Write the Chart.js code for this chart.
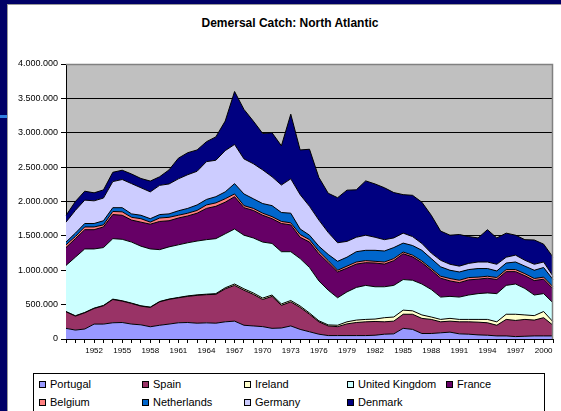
<!DOCTYPE html>
<html><head><meta charset="utf-8">
<script src="https://cdn.jsdelivr.net/npm/chart.js@4.4.0/dist/chart.umd.min.js"></script>
<style>
body{margin:0;background:#000066;width:561px;height:411px;overflow:hidden;position:relative;font-family:"Liberation Sans",Arial,sans-serif}
#card{position:absolute;left:7px;top:4px;width:554px;height:407px;background:#fff;border-top:1px solid #999;border-left:1px solid #999;box-sizing:border-box}
#dash{position:absolute;left:0;top:115px;width:7px;height:3px;background:#2f7fe0}
#title{position:absolute;left:0;top:11px;width:564px;text-align:center;font-weight:bold;font-size:12px;line-height:14px;color:#000}
#chart{position:absolute;left:-1px;top:-1px}
#legend{position:absolute;left:25px;top:368px;width:512px;height:50px;border:1px solid #000;box-sizing:border-box}
.item{position:absolute;font-size:11px;line-height:13px;color:#000;white-space:nowrap}
.sw{display:inline-block;width:7px;height:7px;border:1px solid #000;box-sizing:border-box;margin-right:4px;vertical-align:0px}
</style></head><body>
<div id="dash"></div>
<div id="card">
<div id="title">Demersal Catch: North Atlantic</div>
<canvas id="chart" width="554" height="365"></canvas>
<div id="legend"></div>
</div>
<script>
const years = [1949,1950,1951,1952,1953,1954,1955,1956,1957,1958,1959,1960,1961,1962,1963,1964,1965,1966,1967,1968,1969,1970,1971,1972,1973,1974,1975,1976,1977,1978,1979,1980,1981,1982,1983,1984,1985,1986,1987,1988,1989,1990,1991,1992,1993,1994,1995,1996,1997,1998,1999,2000,2001];
const portugal = [155000,130000,145000,217000,217000,236000,240000,217000,206000,178000,200000,217000,236000,240000,230000,235000,230000,250000,260000,200000,190000,180000,155000,160000,190000,140000,105000,70000,50000,50000,50000,50000,50000,55000,70000,75000,155000,140000,80000,80000,90000,100000,75000,70000,60000,55000,45000,45000,35000,40000,45000,45000,45000];
const spain = [241000,203000,236000,227000,266000,339000,311000,300000,272000,281000,341000,359000,363000,380000,405000,410000,420000,480000,520000,510000,460000,395000,465000,330000,350000,320000,255000,180000,140000,130000,170000,190000,200000,200000,180000,185000,205000,220000,220000,205000,160000,160000,175000,180000,185000,181000,155000,240000,235000,245000,230000,265000,155000];
const ireland = [4000,5000,5000,5000,5000,5000,5000,5000,5000,5000,5000,5000,5000,7000,7000,7000,10000,15000,20000,20000,20000,20000,20000,20000,20000,20000,18000,15000,15000,20000,30000,35000,35000,35000,60000,60000,60000,50000,50000,35000,35000,40000,35000,35000,40000,49000,50000,75000,90000,65000,65000,90000,50000];
const unitedKingdom = [670000,852000,924000,861000,842000,880000,894000,888000,867000,846000,754000,759000,766000,773000,783000,793000,800000,785000,800000,780000,800000,815000,750000,760000,710000,690000,662000,580000,505000,400000,435000,475000,495000,470000,450000,460000,445000,445000,450000,400000,325000,320000,325000,355000,375000,385000,410000,420000,440000,385000,300000,260000,276000];
const france = [260000,270000,280000,280000,300000,350000,350000,320000,350000,360000,410000,380000,390000,390000,405000,455000,470000,460000,470000,400000,400000,390000,360000,410000,390000,310000,370000,395000,400000,375000,345000,340000,330000,345000,330000,360000,375000,340000,310000,280000,275000,225000,210000,220000,210000,215000,205000,200000,180000,185000,210000,210000,204000];
const belgium = [40000,30000,40000,40000,30000,45000,50000,40000,50000,30000,50000,50000,40000,40000,40000,50000,50000,50000,40000,30000,30000,30000,30000,30000,30000,40000,35000,35000,30000,25000,30000,30000,30000,25000,30000,30000,25000,25000,25000,25000,28000,35000,35000,34000,30000,28000,29000,30000,30000,30000,30000,30000,30000];
const netherlands = [40000,50000,50000,50000,60000,55000,60000,50000,50000,50000,50000,50000,65000,70000,80000,80000,90000,100000,150000,170000,140000,140000,160000,130000,140000,80000,65000,75000,90000,130000,130000,150000,150000,160000,160000,160000,130000,140000,155000,145000,137000,120000,120000,116000,125000,112000,96000,95000,110000,110000,120000,140000,105000];
const germany = [290000,330000,340000,330000,330000,380000,410000,440000,400000,390000,425000,435000,465000,490000,490000,550000,530000,600000,570000,510000,510000,490000,420000,400000,500000,500000,420000,380000,320000,270000,230000,210000,220000,190000,165000,140000,145000,130000,100000,80000,95000,87000,85000,90000,95000,95000,97000,85000,100000,85000,87000,80000,48000];
const denmark = [97000,130000,130000,116000,119000,135000,135000,140000,135000,157000,125000,205000,300000,320000,310000,290000,340000,430000,770000,720000,620000,530000,640000,570000,940000,650000,830000,620000,570000,655000,745000,690000,790000,775000,755000,660000,560000,600000,600000,550000,425000,423000,460000,390000,350000,470000,383000,350000,290000,300000,353000,260000,277000];
const seriesNames = ["Portugal","Spain","Ireland","United Kingdom","France","Belgium","Netherlands","Germany","Denmark"];
const seriesData = [portugal,spain,ireland,unitedKingdom,france,belgium,netherlands,germany,denmark];
const seriesColors = ["#9999FF","#993366","#FFFFCC","#CCFFFF","#660066","#FF8080","#0066CC","#CCCCFF","#000080"];
const yTicks = [0,500000,1000000,1500000,2000000,2500000,3000000,3500000,4000000];

// legend layout (style only)
const legCols = [5,108,210,313,412];
const legRows = [4,22];
const legend = document.getElementById('legend');
seriesNames.forEach((n,i)=>{
  const d = document.createElement('div');
  d.className='item';
  d.style.left = legCols[i<5?i:i-5]+'px';
  d.style.top = legRows[i<5?0:1]+'px';
  d.innerHTML = '<span class="sw" style="background:'+seriesColors[i]+'"></span>'+n;
  legend.appendChild(d);
});

const plotBg = {
  id:'plotBg',
  beforeDraw(c){
    const a=c.chartArea, x=c.ctx;
    x.save(); x.fillStyle='#C0C0C0'; x.fillRect(a.left,a.top,a.right-a.left,a.bottom-a.top); x.restore();
  },
  afterDatasetsDraw(c){
    const a=c.chartArea, x=c.ctx;
    x.save(); x.strokeStyle='#808080'; x.lineWidth=1.5;
    x.beginPath(); x.moveTo(a.left,a.top+0.5); x.lineTo(a.right-0.5,a.top+0.5); x.lineTo(a.right-0.5,a.bottom); x.stroke();
    x.restore();
  }
};

new Chart(document.getElementById('chart'),{
  type:'line',
  data:{
    labels:years,
    datasets:seriesNames.map((n,i)=>({
      label:n, data:seriesData[i],
      backgroundColor:seriesColors[i], borderColor:'#000', borderWidth:1,
      fill: i===0 ? 'origin' : '-1', pointRadius:0, tension:0
    }))
  },
  options:{
    responsive:false, animation:false, devicePixelRatio:1,
    layout:{padding:{top:60,right:8,bottom:8,left:0}},
    plugins:{legend:{display:false},tooltip:{enabled:false},title:{display:false}},
    scales:{
      x:{
        offset:false,
        grid:{display:true,drawOnChartArea:false,drawTicks:true,tickLength:4,color:'#000',tickColor:'#000'},
        border:{display:true,color:'#000',width:1},
        ticks:{autoSkip:false,maxRotation:0,minRotation:0,padding:3,color:'#000',
          font:{family:'"Liberation Sans", Arial, sans-serif',size:8},
          callback:function(v){const y=this.getLabelForValue(v);return (y>=1952 && (y-1952)%3===0)?String(y):'';}},
        afterFit(s){s.height=22;}
      },
      y:{
        stacked:true, min:0, max:4000000,
        afterBuildTicks(s){s.ticks=yTicks.map(v=>({value:v}));},
        grid:{color:(c)=>c.tick && c.tick.value===4000000?'#808080':'#000',lineWidth:1,tickLength:5,tickColor:'#000'},
        border:{display:true,color:'#000',width:1},
        ticks:{padding:3,color:'#000',font:{family:'"Liberation Sans", Arial, sans-serif',size:9},
          callback:(v)=>String(v).replace(/\B(?=(\d{3})+(?!\d))/g,'.')},
        afterFit(s){s.width=59;}
      }
    }
  },
  plugins:[plotBg]
});
</script>
</body></html>
